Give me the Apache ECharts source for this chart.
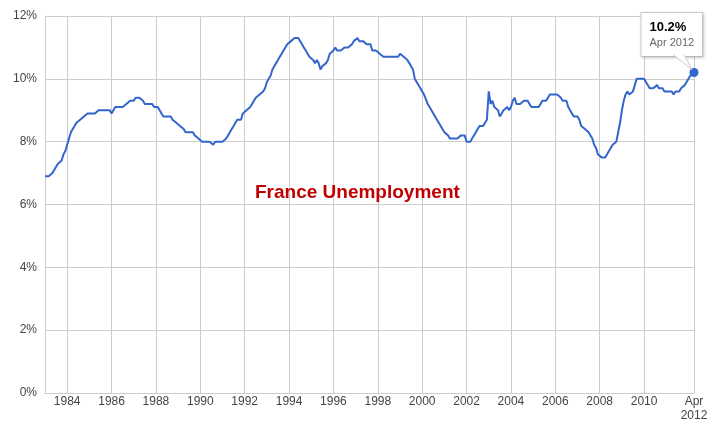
<!DOCTYPE html>
<html>
<head>
<meta charset="utf-8">
<script src="https://cdn.jsdelivr.net/npm/echarts@6/dist/echarts.min.js"></script>
<style>
    html, body { margin: 0; padding: 0; background: #fff; }
    #chart { width: 714px; height: 423px; }
</style>
</head>
<body>
<div id="chart"></div>
<script>
    // monthly unemployment rate, Jan 1983 .. Apr 2012
    const startYear = 1983;
    const monthNames = ['Jan', 'Feb', 'Mar', 'Apr', 'May', 'Jun', 'Jul', 'Aug', 'Sep', 'Oct', 'Nov', 'Dec'];
    const rate = [
        6.9, 6.9, 6.9, 6.9, 7.0, 7.1, 7.2, 7.3, 7.3, 7.4, 7.6, 7.7,          // 1983
        7.9, 8.1, 8.3, 8.4, 8.5, 8.6, 8.6, 8.7, 8.7, 8.8, 8.8, 8.9,          // 1984
        8.9, 8.9, 8.9, 8.9, 8.9, 9.0, 9.0, 9.0, 9.0, 9.0, 9.0, 9.0,          // 1985
        8.9, 9.0, 9.1, 9.1, 9.1, 9.1, 9.1, 9.1, 9.2, 9.2, 9.3, 9.3,          // 1986
        9.3, 9.4, 9.4, 9.4, 9.4, 9.3, 9.2, 9.2, 9.2, 9.2, 9.2, 9.1,          // 1987
        9.1, 9.1, 9.0, 8.9, 8.8, 8.8, 8.8, 8.8, 8.8, 8.7, 8.7, 8.6,          // 1988
        8.6, 8.5, 8.5, 8.4, 8.3, 8.3, 8.3, 8.3, 8.3, 8.2, 8.2, 8.1,          // 1989
        8.1, 8.0, 8.0, 8.0, 8.0, 8.0, 8.0, 7.9, 8.0, 8.0, 8.0, 8.0,          // 1990
        8.0, 8.0, 8.1, 8.2, 8.3, 8.4, 8.5, 8.6, 8.7, 8.7, 8.7, 8.9,          // 1991
        8.9, 9.0, 9.0, 9.1, 9.2, 9.3, 9.4, 9.4, 9.5, 9.5, 9.6, 9.7,          // 1992
        9.9, 10.0, 10.1, 10.3, 10.4, 10.5, 10.6, 10.7, 10.8, 10.9, 11.0, 11.1, // 1993
        11.1, 11.2, 11.2, 11.3, 11.3, 11.3, 11.2, 11.1, 11.0, 10.9, 10.8, 10.7, // 1994
        10.7, 10.6, 10.5, 10.6, 10.5, 10.3, 10.4, 10.4, 10.5, 10.6, 10.8, 10.8, // 1995
        10.9, 11.0, 10.9, 10.9, 10.9, 10.9, 11.0, 11.0, 11.0, 11.0, 11.1, 11.2, // 1996
        11.2, 11.3, 11.2, 11.2, 11.2, 11.2, 11.1, 11.1, 11.1, 10.9, 10.9, 10.9, // 1997
        10.9, 10.8, 10.8, 10.7, 10.7, 10.7, 10.7, 10.7, 10.7, 10.7, 10.7, 10.7, // 1998
        10.8, 10.8, 10.7, 10.7, 10.6, 10.5, 10.4, 10.3, 10.0, 9.9, 9.8, 9.7,  // 1999
        9.6, 9.5, 9.5, 9.2, 9.1, 9.1, 8.9, 8.9, 8.7, 8.6, 8.5, 8.5,          // 2000
        8.3, 8.3, 8.2, 8.1, 8.1, 8.1, 8.1, 8.1, 8.1, 8.2, 8.2, 8.2,          // 2001
        8.0, 8.0, 8.0, 8.1, 8.2, 8.3, 8.4, 8.5, 8.5, 8.5, 8.6, 8.7,          // 2002
        9.6, 9.2, 9.3, 9.1, 9.1, 9.0, 8.8, 8.9, 9.0, 9.0, 9.1, 9.0,          // 2003
        9.1, 9.3, 9.4, 9.2, 9.2, 9.2, 9.2, 9.3, 9.3, 9.3, 9.3, 9.1,          // 2004
        9.1, 9.1, 9.1, 9.1, 9.2, 9.3, 9.3, 9.3, 9.4, 9.5, 9.5, 9.5,          // 2005
        9.5, 9.5, 9.5, 9.4, 9.3, 9.3, 9.3, 9.1, 9.0, 8.9, 8.8, 8.8,          // 2006
        8.8, 8.7, 8.5, 8.5, 8.4, 8.4, 8.3, 8.2, 8.1, 7.9, 7.8, 7.6,          // 2007
        7.6, 7.5, 7.5, 7.5, 7.6, 7.7, 7.8, 7.9, 7.9, 8.0, 8.3, 8.6,          // 2008
        9.0, 9.3, 9.5, 9.6, 9.5, 9.5, 9.6, 9.8, 10.0, 10.0, 10.0, 10.0,      // 2009
        10.0, 9.9, 9.8, 9.7, 9.7, 9.7, 9.7, 9.8, 9.7, 9.7, 9.7, 9.6,         // 2010
        9.6, 9.6, 9.6, 9.6, 9.5, 9.6, 9.6, 9.6, 9.7, 9.7, 9.8, 9.9,          // 2011
        10.0, 10.1, 10.2, 10.2                                               // 2012
    ];
    const yTicks = [0, 2, 4, 6, 8, 10, 12];
    const firstYearTick = 1984;
    const lastYearTick = 2010;

    const categories = rate.map(function (v, i) {
        return monthNames[i % 12] + ' ' + (startYear + Math.floor(i / 12));
    });
    const lastIdx = rate.length - 1;

    // grid lines / labels every other January (1984..2010), plus the last month
    function showTick(i) {
        if (i === lastIdx) return true;
        if (i % 12 !== 0) return false;
        const yr = startYear + i / 12;
        return yr >= firstYearTick && yr <= lastYearTick && (yr - firstYearTick) % 2 === 0;
    }

    const chart = echarts.init(document.getElementById('chart'), null, { renderer: 'canvas' });

    const option = {
        animation: false,
        textStyle: { fontFamily: 'Arial, "Liberation Sans", sans-serif' },
        title: {
            text: 'France Unemployment',
            left: 250,
            top: 178,
            textStyle: {
                color: '#c00000',
                fontSize: 19,
                fontWeight: 'bold',
                fontFamily: 'Arial, "Liberation Sans", sans-serif'
            }
        },
        grid: {
            left: 45,
            right: 20,
            top: 16,
            bottom: 30,
            containLabel: false
        },
        xAxis: {
            type: 'category',
            boundaryGap: false,
            data: categories,
            axisLine: { show: true, lineStyle: { color: '#cccccc', width: 1 } },
            axisTick: { show: false },
            splitLine: {
                show: true,
                interval: function (i) { return showTick(i); },
                lineStyle: { color: '#cccccc', width: 1 }
            },
            axisLabel: {
                interval: function (i) { return showTick(i); },
                hideOverlap: false,
                color: '#444444',
                fontSize: 12,
                margin: 2,
                lineHeight: 14,
                formatter: function (value, i) {
                    const parts = value.split(' ');
                    if (i === lastIdx) {
                        return parts[0] + '\n' + parts[1];
                    }
                    return parts[1];
                }
            }
        },
        yAxis: {
            type: 'value',
            min: yTicks[0],
            max: yTicks[yTicks.length - 1],
            interval: 2,
            axisLine: { show: true, lineStyle: { color: '#cccccc', width: 1 } },
            axisTick: { show: false },
            splitLine: { show: true, lineStyle: { color: '#cccccc', width: 1 } },
            axisLabel: {
                color: '#444444',
                fontSize: 12,
                margin: 8,
                formatter: '{value}%'
            }
        },
        series: [
            {
                name: 'France Unemployment',
                type: 'line',
                data: rate,
                showSymbol: false,
                lineStyle: { color: '#3366cc', width: 2 },
                itemStyle: { color: '#3366cc' },
                z: 3,
                markPoint: {
                    silent: true,
                    data: [
                        {
                            coord: [categories[lastIdx], rate[lastIdx]],
                            symbol: 'circle',
                            symbolSize: 9,
                            itemStyle: { color: '#3366cc' },
                            label: {
                                show: true,
                                position: [-48, -55],
                                formatter: '{a|' + rate[lastIdx].toFixed(1) + '%}\n{b|' + categories[lastIdx] + '}',
                                backgroundColor: '#ffffff',
                                borderColor: '#cccccc',
                                borderWidth: 1,
                                padding: [6, 8, 6, 8],
                                shadowColor: 'rgba(0,0,0,0.2)',
                                shadowBlur: 3,
                                shadowOffsetX: 1,
                                shadowOffsetY: 1,
                                rich: {
                                    a: { fontSize: 13, fontWeight: 'bold', color: '#000000', lineHeight: 16 },
                                    b: { fontSize: 11, color: '#666666', lineHeight: 15 }
                                }
                            }
                        }
                    ]
                }
            }
        ]
    };

    chart.setOption(option);

    // small callout pointer from the label box down to the last point
    const pt = chart.convertToPixel({ seriesIndex: 0 }, [lastIdx, rate[lastIdx]]);
    chart.setOption({
        graphic: [
            {
                type: 'polygon',
                z: 100,
                shape: {
                    points: [
                        [pt[0] - 21, pt[1] - 18],
                        [pt[0] - 10, pt[1] - 18],
                        [pt[0] - 2, pt[1] - 3]
                    ]
                },
                style: { fill: '#ffffff', stroke: null }
            },
            {
                type: 'polyline',
                z: 100,
                shape: {
                    points: [
                        [pt[0] - 21, pt[1] - 18],
                        [pt[0] - 2, pt[1] - 3],
                        [pt[0] - 10, pt[1] - 18]
                    ]
                },
                style: { stroke: '#cccccc', lineWidth: 1, fill: null }
            }
        ]
    });

    window.addEventListener('resize', chart.resize);
</script>
</body>
</html>
